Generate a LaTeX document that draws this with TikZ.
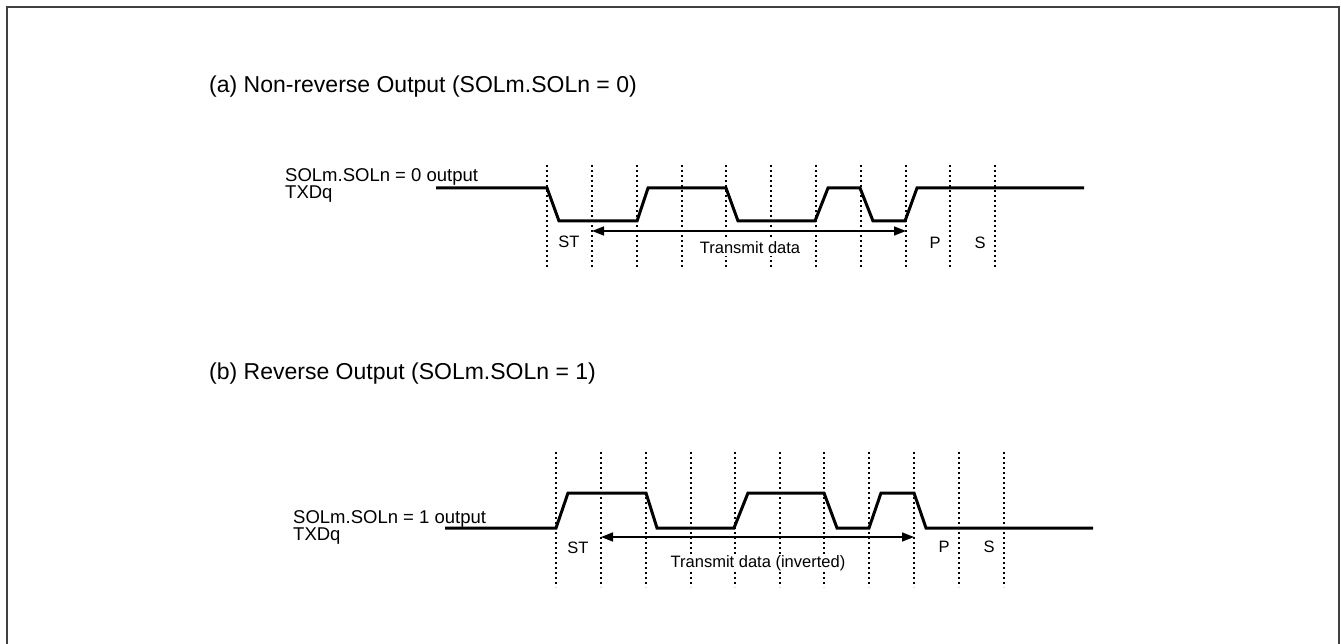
\documentclass[tikz,border=0pt]{standalone}
\usepackage{fontspec}
\setmainfont{Liberation Sans}
\usetikzlibrary{arrows.meta}
\definecolor{framec}{HTML}{404040}
\begin{document}
\begin{tikzpicture}[x=1pt,y=-1pt,
  sig/.style={line width=3pt, line join=miter},
  gridline/.style={line width=2pt, dash pattern=on 2pt off 3pt},
  span/.style={line width=1.5pt, {Triangle[length=12pt,width=9pt]}-{Triangle[length=12pt,width=9pt]}},
  ttl/.style={font=\fontsize{23}{27}\selectfont, anchor=base west, inner sep=0pt},
  lbl/.style={font=\fontsize{18.5}{22}\selectfont, anchor=base west, inner sep=0pt},
  sm/.style={font=\fontsize{16.5}{20}\selectfont, inner sep=1.5pt, fill=white},
]
\useasboundingbox (0,0) rectangle (1341,644);
\begin{scope}
\clip (0,0) rectangle (1341,644);
\draw[line width=2pt, color=framec] (7,7) rectangle (1339,700);
\end{scope}

% ---------- (a) ----------
\node[ttl] (ta) at (209,93) {(a) Non-reverse Output (SOLm.SOLn = 0)};
\node[lbl] (la1) at (285,182) {SOLm.SOLn = 0 output};
\node[lbl] (la2) at (285,199) {TXDq};
\foreach \x in {547,592,637,682,726,771,816,861,906,950,995}
  \draw[gridline] (\x,165) -- (\x,268);
\draw[sig] (436,188) -- (547,188) -- (559,221) -- (637,221) -- (648,188) -- (726,188) -- (738,221) -- (815,221) -- (828,188) -- (860,188) -- (873,221) -- (905,221) -- (917,188) -- (1084,188);
\coordinate (a1) at (592,231);
\coordinate (a2) at (906,231);
\draw[span] (a1) -- (a2);
\node[sm] (stA) at (569,242) {ST};
\node[sm] (tdA) at (750,248) {Transmit data};
\node[sm] (pA) at (935,243) {P};
\node[sm] (sA) at (980,243) {S};

% ---------- (b) ----------
\node[ttl] (tb) at (209,379) {(b) Reverse Output (SOLm.SOLn = 1)};
\node[lbl] (lb1) at (293,523) {SOLm.SOLn = 1 output};
\node[lbl] (lb2) at (293,540) {TXDq};
\foreach \x in {556,601,645.5,690.5,735,779.5,824,869,914,959,1003.5}
  \draw[gridline] (\x,452) -- (\x,587);
\draw[sig] (445,528) -- (556,528) -- (568,493) -- (646,493) -- (657,528) -- (734,528) -- (748,493) -- (824,493) -- (837,528) -- (869,528) -- (881,493) -- (914,493) -- (926,528) -- (1093,528);
\coordinate (b1) at (601,537);
\coordinate (b2) at (914,537);
\draw[span] (b1) -- (b2);
\node[sm] (stB) at (578,548) {ST};
\node[sm] (tdB) at (758,563) {Transmit data (inverted)};
\node[sm] (pB) at (944,547) {P};
\node[sm] (sB) at (989,547) {S};
\end{tikzpicture}
\end{document}
